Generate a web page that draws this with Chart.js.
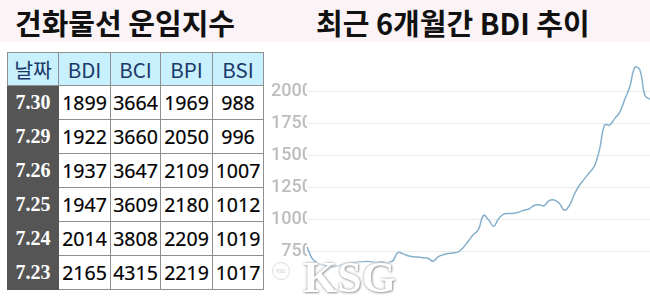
<!DOCTYPE html>
<html>
<head>
<meta charset="utf-8">
<script src="https://cdn.jsdelivr.net/npm/chart.js@4"></script>
<style>
  body { margin: 0; width: 650px; height: 300px; background: #fff; position: relative; overflow: hidden; font-family: "Noto Sans", sans-serif; }
  .top { position: absolute; left: 0; top: 0; width: 650px; height: 42px; background: #fcf3f6; }
  .title { position: absolute; top: 1px; font-family: "Noto Sans CJK KR", sans-serif; font-weight: 700; font-size: 29px; color: #111; white-space: nowrap; }
  #tbl { position: absolute; left: 7px; top: 52px; border-collapse: collapse; }
  #tbl td, #tbl th { border: 1px solid #8f8f8f; padding: 0; text-align: center; }
  #tbl th { background: #c9f0fd; color: #1b3a6b; font-weight: 400; font-size: 20.5px; font-family: "Noto Sans CJK KR", sans-serif; height: 32px; }
  #tbl td { font-size: 19.5px; color: #000; height: 33px; -webkit-text-stroke: 0.2px #000; }
  #tbl td.d { background: #555; color: #fff; font-family: "Liberation Serif", serif; font-weight: 700; font-size: 20px; border-color: #555; -webkit-text-stroke: 0; }
  .chartbox { position: absolute; left: 270px; top: 50px; width: 380px; height: 250px; }
  .wm { position: absolute; left: 270px; top: 262px; width: 124px; height: 38px; background: rgba(255,255,255,0.55); }
  .wm span { position: absolute; left: 33px; top: -10px; font-family: "Liberation Serif", serif; font-weight: 700; font-size: 44px; color: #fff; text-shadow: 0 0 3px #999, 1px 1px 2px #aaa; letter-spacing: 0px; }
  .logo { position: absolute; left: 2px; top: 0px; width: 16px; height: 16px; border: 1px solid #ddd; border-radius: 50%; font-size: 5px; color: #ccc; text-align: center; line-height: 16px; font-family: "Noto Sans", sans-serif; }
</style>
</head>
<body>
<div class="top"></div>
<div class="title" style="left:15px;">건화물선 운임지수</div>
<div class="title" style="left:316px;">최근 6개월간 BDI 추이</div>

<table id="tbl"></table>

<div class="chartbox"><canvas id="bdi"></canvas></div>
<div class="wm"><div class="logo">KSG</div><span>KSG</span></div>

<script>
// table
const tableHead = ['날짜', 'BDI', 'BCI', 'BPI', 'BSI'];
const dates = ['7.30', '7.29', '7.26', '7.25', '7.24', '7.23'];
const bdi = [1899, 1922, 1937, 1947, 2014, 2165];
const bci = [3664, 3660, 3647, 3609, 3808, 4315];
const bpi = [1969, 2050, 2109, 2180, 2209, 2219];
const bsi = [988, 996, 1007, 1012, 1019, 1017];

// 6 month BDI trend
const trend = [790, 700, 665, 650, 640, 632, 640, 650, 660, 665,
               670, 672, 675, 670, 668, 672, 665, 680, 745, 735,
               720, 712, 710, 705, 700, 677, 712, 728, 738, 742,
               750, 785, 835, 885, 925, 1035, 1000, 950, 1010, 1045,
               1049, 1052, 1060, 1075, 1085, 1112, 1118, 1110, 1150, 1155,
               1130, 1075, 1110, 1200, 1270, 1320, 1370, 1420, 1550, 1740,
               1740, 1790, 1840, 1940, 2040, 2190, 2170, 1970, 1940];
const trendLabels = trend.map((v, i) => i + 1);
const yTicks = [750, 1000, 1250, 1500, 1750, 2000];

const tbl = document.getElementById('tbl');
const colW = [50, 51, 49, 51, 50];
let html = '<tr>' + tableHead.map((h, i) => '<th style="width:' + colW[i] + 'px">' + h + '</th>').join('') + '</tr>';
dates.forEach((d, i) => {
    html += '<tr><td class="d">' + d + '</td><td>' + bdi[i] + '</td><td>' + bci[i] + '</td><td>' + bpi[i] + '</td><td>' + bsi[i] + '</td></tr>';
});
tbl.innerHTML = html;

const data = {
    labels: trendLabels,
    datasets: [{
        label: 'BDI',
        data: trend,
        borderColor: '#86b0cc',
        borderWidth: 1.5,
        pointRadius: 0,
        tension: 0.4,
        fill: false,
    }],
};

const config = {
    type: 'line',
    data,
    options: {
        responsive: true,
        maintainAspectRatio: false,
        animation: false,
        layout: {
            padding: {top: 5, left: 0, right: 0, bottom: 0}
        },
        plugins: {
            legend: { display: false },
            tooltip: { enabled: false },
        },
        scales: {
            x: {
                display: false,
                offset: false,
            },
            y: {
                min: 420,
                max: 2280,
                border: { display: false },
                grid: { color: '#ececec', drawTicks: false },
                afterBuildTicks: (scale) => {
                    scale.ticks = yTicks.map(v => ({value: v}));
                },
                afterFit: (scale) => { scale.width = 37; },
                ticks: {
                    color: '#bdbdbd',
                    padding: -5,
                    font: { family: 'Roboto', size: 18, weight: '500' },
                    callback: (v) => String(v),
                }
            }
        },
    }
};

const chart = new Chart(document.getElementById('bdi'), config);
</script>
</body>
</html>
